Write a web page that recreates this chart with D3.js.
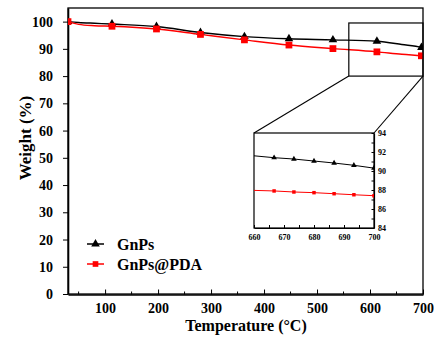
<!DOCTYPE html>
<html>
<head>
<meta charset="utf-8">
<script src="https://cdn.jsdelivr.net/npm/d3@7"></script>
<style>
  body { margin: 0; background: #fff; }
  svg text { font-family: "Liberation Serif", "Times New Roman", serif; font-weight: bold; }
</style>
</head>
<body>
<div id="chart"></div>
<script>
// main curves (temperature, weight %)
var temps      = [30, 50, 80, 113, 197, 280, 363, 447, 530, 613, 660, 697, 700];
var gnps       = [100, 99.7, 99.4, 99.1, 98.2, 96.0, 94.5, 93.7, 93.3, 92.8, 91.6, 90.5, 90.3];
var gnpsPda    = [100, 99.0, 98.5, 98.3, 97.3, 95.3, 93.3, 91.4, 90.1, 88.9, 88.0, 87.45, 87.4];
var markerTemps = [30, 113, 197, 280, 363, 447, 530, 613, 697];

// inset (zoom of 660-700 °C)
var insetTemps   = [660, 666.7, 673.3, 680, 686.7, 693.3, 700];
var insetGnps    = [91.6, 91.4, 91.26, 91.05, 90.84, 90.6, 90.3];
var insetGnpsPda = [87.96, 87.9, 87.79, 87.72, 87.61, 87.5, 87.4];

var xTicks = [100, 200, 300, 400, 500, 600, 700];
var yTicks = [0, 10, 20, 30, 40, 50, 60, 70, 80, 90, 100];
var insetXTicks = [660, 670, 680, 690, 700];
var insetYTicks = [84, 86, 88, 90, 92, 94];
var zoomBox = { x0: 560, x1: 700, y0: 80, y1: 99.5 };

var W = 434, H = 342;
var svg = d3.select("#chart").append("svg").attr("width", W).attr("height", H);

var x = d3.scaleLinear().domain([30, 700]).range([68, 423]);
var y = d3.scaleLinear().domain([0, 105]).range([294, 8]);

var defs = svg.append("defs");
defs.append("clipPath").attr("id", "clipMain")
  .append("rect").attr("x", 68).attr("y", 8).attr("width", 355).attr("height", 286);

// frame
svg.append("rect").attr("x", 68).attr("y", 8).attr("width", 355).attr("height", 286)
  .attr("fill", "none").attr("stroke", "#000").attr("stroke-width", 1.3);

// x axis, ticks inward
var xAxis = svg.append("g").attr("transform", "translate(0,294.5)")
  .call(d3.axisBottom(x).tickValues(xTicks).tickSizeInner(-5).tickSizeOuter(0).tickPadding(9));
xAxis.selectAll("text").attr("font-size", "14px").attr("fill", "#000");
xAxis.select(".domain").attr("stroke-width", 1.6);
// minor ticks
svg.append("g").selectAll("line").data(d3.range(50, 700, 100)).enter().append("line")
  .attr("x1", d => x(d)).attr("x2", d => x(d)).attr("y1", 294.5).attr("y2", 291.5)
  .attr("stroke", "#000");

var yAxis = svg.append("g").attr("transform", "translate(68,0)")
  .call(d3.axisLeft(y).tickValues(yTicks).tickSizeInner(5).tickSizeOuter(0).tickPadding(10));
yAxis.selectAll("text").attr("font-size", "14px").attr("fill", "#000");
yAxis.select(".domain").attr("stroke-width", 1.6);

// axis titles
svg.append("text").attr("x", 246).attr("y", 331).attr("text-anchor", "middle")
  .attr("font-size", "16px").text("Temperature (°C)");
svg.append("text").attr("transform", "translate(31,138) rotate(-90)").attr("text-anchor", "middle")
  .attr("font-size", "17px").text("Weight (%)");

var triangle = d3.symbol().type(d3.symbolTriangle);
var square = d3.symbol().type(d3.symbolSquare);

function drawSeries(g, xs, sx, sy, vals, color, sym, size, lw, marks) {
  var pts = vals.map((v, i) => [xs[i], v]);
  g.append("path").datum(pts)
    .attr("fill", "none").attr("stroke", color).attr("stroke-width", lw)
    .attr("d", d3.line().x(d => sx(d[0])).y(d => sy(d[1])).curve(d3.curveMonotoneX));
  g.selectAll(null).data(pts.filter(d => marks(d[0]))).enter().append("path")
    .attr("transform", d => "translate(" + sx(d[0]) + "," + sy(d[1]) + ")")
    .attr("d", sym.size(size)()).attr("fill", color);
}

var main = svg.append("g").attr("clip-path", "url(#clipMain)");
drawSeries(main, temps, x, y, gnps, "#000", triangle, 32, 1.4, t => markerTemps.includes(t));
drawSeries(main, temps, x, y, gnpsPda, "#f00", square, 46, 1.4, t => markerTemps.includes(t));

// zoom box
svg.append("rect").attr("x", x(zoomBox.x0)).attr("y", y(zoomBox.y1))
  .attr("width", x(zoomBox.x1) - x(zoomBox.x0)).attr("height", y(zoomBox.y0) - y(zoomBox.y1))
  .attr("fill", "none").attr("stroke", "#000").attr("stroke-width", 1.2);

// inset
var ix = d3.scaleLinear().domain([660, 700]).range([254, 374]);
var iy = d3.scaleLinear().domain([84, 94]).range([228, 133]);

svg.append("line").attr("x1", x(zoomBox.x0)).attr("y1", y(zoomBox.y0)).attr("x2", ix(660)).attr("y2", iy(94))
  .attr("stroke", "#000").attr("stroke-width", 1.1);
svg.append("line").attr("x1", x(zoomBox.x1)).attr("y1", y(zoomBox.y0)).attr("x2", ix(700)).attr("y2", iy(94))
  .attr("stroke", "#000").attr("stroke-width", 1.1);

defs.append("clipPath").attr("id", "clipInset")
  .append("rect").attr("x", 254).attr("y", 133).attr("width", 120).attr("height", 95);

svg.append("rect").attr("x", 254).attr("y", 133).attr("width", 120).attr("height", 95)
  .attr("fill", "#fff").attr("stroke", "#000").attr("stroke-width", 1.2);

var ixAxis = svg.append("g").attr("transform", "translate(0,228)")
  .call(d3.axisBottom(ix).tickValues(d3.range(660, 701, 5)).tickSizeInner(-3).tickSizeOuter(0).tickPadding(6)
    .tickFormat(d => insetXTicks.includes(d) ? d : ""));
ixAxis.selectAll("text").attr("font-size", "8px").attr("fill", "#000");
ixAxis.select(".domain").attr("stroke-width", 1.2);

var iyAxis = svg.append("g").attr("transform", "translate(374,0)")
  .call(d3.axisRight(iy).tickValues(d3.range(84, 94.1, 1)).tickSizeInner(-2.5).tickSizeOuter(0).tickPadding(4)
    .tickFormat(d => insetYTicks.includes(d) ? d : ""));
iyAxis.selectAll("text").attr("font-size", "8px").attr("fill", "#000");
iyAxis.select(".domain").attr("stroke-width", 1.2);

var inset = svg.append("g").attr("clip-path", "url(#clipInset)");
drawSeries(inset, insetTemps, ix, iy, insetGnps, "#000", triangle, 14, 1, t => t > 660);
drawSeries(inset, insetTemps, ix, iy, insetGnpsPda, "#f00", square, 12, 1, t => t > 660);

// legend
var legend = [["GnPs", "#000", triangle, 32], ["GnPs@PDA", "#f00", square, 32]];
legend.forEach(function (l, i) {
  var ly = 244 + i * 20;
  svg.append("line").attr("x1", 87).attr("x2", 104).attr("y1", ly).attr("y2", ly)
    .attr("stroke", l[1]).attr("stroke-width", 1.5);
  svg.append("path").attr("transform", "translate(95.5," + ly + ")").attr("d", l[2].size(l[3])()).attr("fill", l[1]);
  svg.append("text").attr("x", 117).attr("y", ly + 5.5).attr("font-size", "16px").text(l[0]);
});
</script>
</body>
</html>
